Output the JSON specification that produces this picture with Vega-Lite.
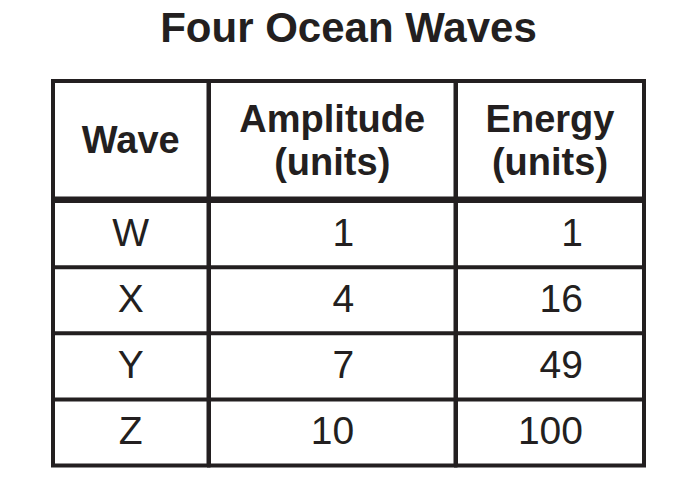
{
  "$schema": "https://vega.github.io/schema/vega-lite/v6.json",
  "title": {"text": "Four Ocean Waves", "anchor": "middle", "offset": 28},
  "padding": {"left": 49, "top": 8, "right": 5, "bottom": 5},
  "background": "white",
  "datasets": {
    "headers": [
      {"column": "Wave", "label": "Wave"},
      {"column": "Amplitude", "label": "Amplitude\n(units)"},
      {"column": "Energy", "label": "Energy\n(units)"}
    ],
    "waves": [
      {"wave": "W", "amplitude": 1, "energy": 1},
      {"wave": "X", "amplitude": 4, "energy": 16},
      {"wave": "Y", "amplitude": 7, "energy": 49},
      {"wave": "Z", "amplitude": 10, "energy": 100}
    ]
  },
  "spacing": -4,
  "vconcat": [
    {
      "spacing": 0,
      "bounds": "flush",
      "data": {"name": "headers"},
      "hconcat": [
        {
          "width": 155.5, "height": 117.5,
          "transform": [{"filter": "datum.column === 'Wave'"}],
          "mark": {"type": "text", "fontWeight": "bold", "fontSize": 38, "lineBreak": "\n", "lineHeight": 43, "dy": 2},
          "encoding": {
            "y": {"field": "column", "type": "nominal", "axis": null,
                  "scale": {"type": "band", "paddingInner": 0, "paddingOuter": 0}},
            "text": {"field": "label"}
          }
        },
        {
          "width": 246.5, "height": 117.5,
          "transform": [{"filter": "datum.column === 'Amplitude'"}],
          "mark": {"type": "text", "fontWeight": "bold", "fontSize": 38, "lineBreak": "\n", "lineHeight": 43, "dy": -19},
          "encoding": {
            "y": {"field": "column", "type": "nominal", "axis": null,
                  "scale": {"type": "band", "paddingInner": 0, "paddingOuter": 0}},
            "text": {"field": "label"}
          }
        },
        {
          "width": 188, "height": 117.5,
          "transform": [{"filter": "datum.column === 'Energy'"}],
          "mark": {"type": "text", "fontWeight": "bold", "fontSize": 38, "lineBreak": "\n", "lineHeight": 43, "dy": -19},
          "encoding": {
            "y": {"field": "column", "type": "nominal", "axis": null,
                  "scale": {"type": "band", "paddingInner": 0, "paddingOuter": 0}},
            "text": {"field": "label"}
          }
        }
      ]
    },
    {
      "spacing": 0,
      "bounds": "flush",
      "data": {"name": "waves"},
      "hconcat": [
        {
          "width": 155.5, "height": 264.5,
          "encoding": {
            "y": {"field": "wave", "type": "nominal", "sort": null, "axis": null,
                  "scale": {"type": "band", "paddingInner": 0, "paddingOuter": 0}}
          },
          "layer": [
            {"mark": {"type": "rule", "strokeWidth": 4, "color": "#231f20"},
             "encoding": {"y": {"field": "wave", "type": "nominal", "sort": null, "axis": null, "bandPosition": 0,
                                "scale": {"type": "band", "paddingInner": 0, "paddingOuter": 0}}}},
            {"mark": {"type": "text", "fontSize": 39},
             "encoding": {"text": {"field": "wave"}}}
          ]
        },
        {
          "width": 246.5, "height": 264.5,
          "encoding": {
            "y": {"field": "wave", "type": "nominal", "sort": null, "axis": null,
                  "scale": {"type": "band", "paddingInner": 0, "paddingOuter": 0}}
          },
          "layer": [
            {"mark": {"type": "rule", "strokeWidth": 4, "color": "#231f20"},
             "encoding": {"y": {"field": "wave", "type": "nominal", "sort": null, "axis": null, "bandPosition": 0,
                                "scale": {"type": "band", "paddingInner": 0, "paddingOuter": 0}}}},
            {"mark": {"type": "text", "fontSize": 39, "align": "right", "dx": 22},
             "encoding": {"text": {"field": "amplitude", "type": "quantitative"}}}
          ]
        },
        {
          "width": 188, "height": 264.5,
          "encoding": {
            "y": {"field": "wave", "type": "nominal", "sort": null, "axis": null,
                  "scale": {"type": "band", "paddingInner": 0, "paddingOuter": 0}}
          },
          "layer": [
            {"mark": {"type": "rule", "strokeWidth": 4, "color": "#231f20"},
             "encoding": {"y": {"field": "wave", "type": "nominal", "sort": null, "axis": null, "bandPosition": 0,
                                "scale": {"type": "band", "paddingInner": 0, "paddingOuter": 0}}}},
            {"mark": {"type": "text", "fontSize": 39, "align": "right", "dx": 33},
             "encoding": {"text": {"field": "energy", "type": "quantitative"}}}
          ]
        }
      ]
    }
  ],
  "config": {
    "view": {"stroke": "#231f20", "strokeWidth": 4},
    "text": {"font": "Liberation Sans", "color": "#231f20"},
    "title": {"font": "Liberation Sans", "fontSize": 42, "fontWeight": "bold", "color": "#231f20"}
  }
}
